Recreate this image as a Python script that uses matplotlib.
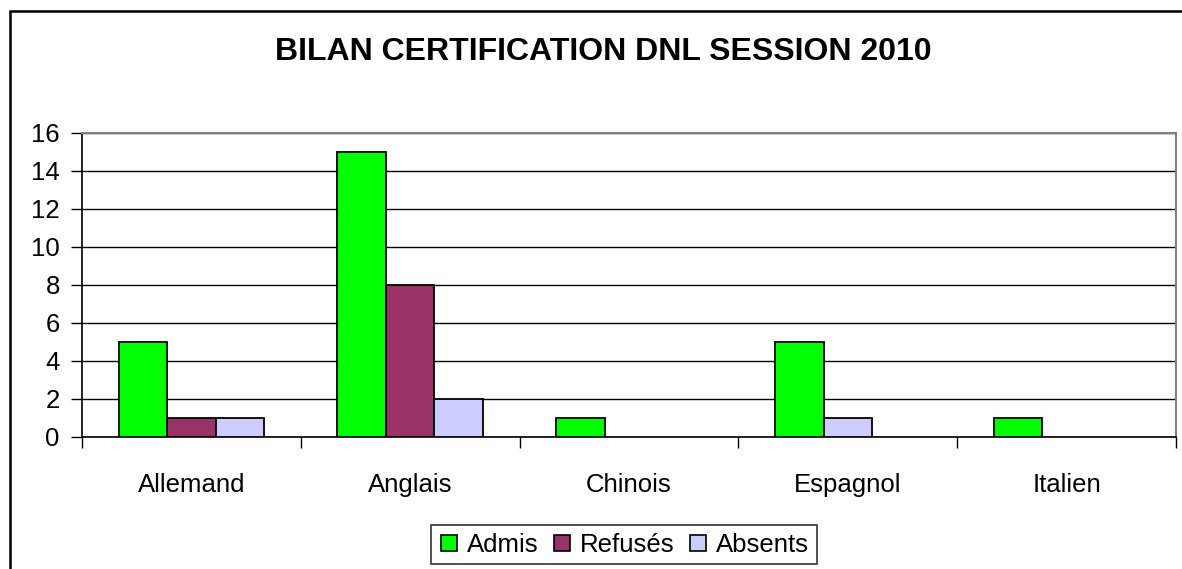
import matplotlib
matplotlib.use("Agg")
import matplotlib.pyplot as plt
from matplotlib.patches import Rectangle
from matplotlib.lines import Line2D
import numpy as np

plt.rcParams['font.family'] = ['Liberation Sans', 'DejaVu Sans']

categories = ["Allemand", "Anglais", "Chinois", "Espagnol", "Italien"]
admis = [5, 15, 1, 5, 1]
refuses = [1, 8, 0, 0, 0]
absents = [1, 2, 0, 1, 0]
series_names = ["Admis", "Refusés", "Absents"]
colors = ["#00FF00", "#993366", "#CCCCFF"]
yticks = [0, 2, 4, 6, 8, 10, 12, 14, 16]
title = "BILAN CERTIFICATION DNL SESSION 2010"

W, H = 1182, 569
fig = plt.figure(figsize=(W / 100, H / 100), dpi=100)

# outer chart frame
fig.patches.append(Rectangle((10 / W, -0.05), 1.2, 1 - 11 / H + 0.05,
                             transform=fig.transFigure, fill=False,
                             edgecolor="black", linewidth=1.8))

ax = fig.add_axes([82 / W, (H - 437) / H, (1176 - 82) / W, (437 - 133) / H])

bw = 0.222
series = [admis, refuses, absents]
# the reference packs the non-empty bars of each group from the left
for ci in range(len(categories)):
    slot = 0
    for si, vals in enumerate(series):
        v = vals[ci]
        if v == 0:
            continue
        ax.bar(ci + (slot - 1) * bw, v, width=bw, color=colors[si],
               edgecolor="black", linewidth=1.3, zorder=3)
        slot += 1

ax.set_xlim(-0.5, len(categories) - 0.5)
ax.set_ylim(0, 16)
ax.set_yticks(yticks)
ax.set_yticklabels([str(t) for t in yticks], fontsize=18.5)
ax.yaxis.grid(True, color="black", linewidth=1.0, zorder=0)
ax.set_axisbelow(True)

x = np.arange(len(categories))
ax.set_xticks(x)
ax.set_xticklabels(categories, fontsize=18.5)
ax.tick_params(axis="x", which="major", length=0, pad=26)
ax.set_xticks(np.arange(-0.5, len(categories) + 0.5, 1), minor=True)
ax.tick_params(axis="x", which="minor", length=8, width=1, direction="out")
ax.tick_params(axis="y", length=8, width=1, direction="out", pad=8)

for s in ["left", "bottom"]:
    ax.spines[s].set_color("black")
    ax.spines[s].set_linewidth(1.2)
for s in ["top", "right"]:
    ax.spines[s].set_color("#808080")
    ax.spines[s].set_linewidth(1.5)

fig.text(603 / W, 1 - 52 / H, title, ha="center", va="center",
         fontsize=23, fontweight="bold")

handles = [Line2D([], [], linestyle="none", marker="s", markersize=11,
                  markerfacecolor=c, markeredgecolor="black", markeredgewidth=1.2)
           for c in colors]
leg = fig.legend(handles, series_names, loc="center", ncol=3,
                 bbox_to_anchor=(624 / W, 1 - 544.5 / H), fontsize=18.5,
                 frameon=True, fancybox=False, edgecolor="black",
                 handlelength=0.8, handletextpad=0.3, columnspacing=0.5,
                 borderpad=0.3, borderaxespad=0)
leg.get_frame().set_linewidth(1.2)

fig.savefig("out.png", dpi=100)
